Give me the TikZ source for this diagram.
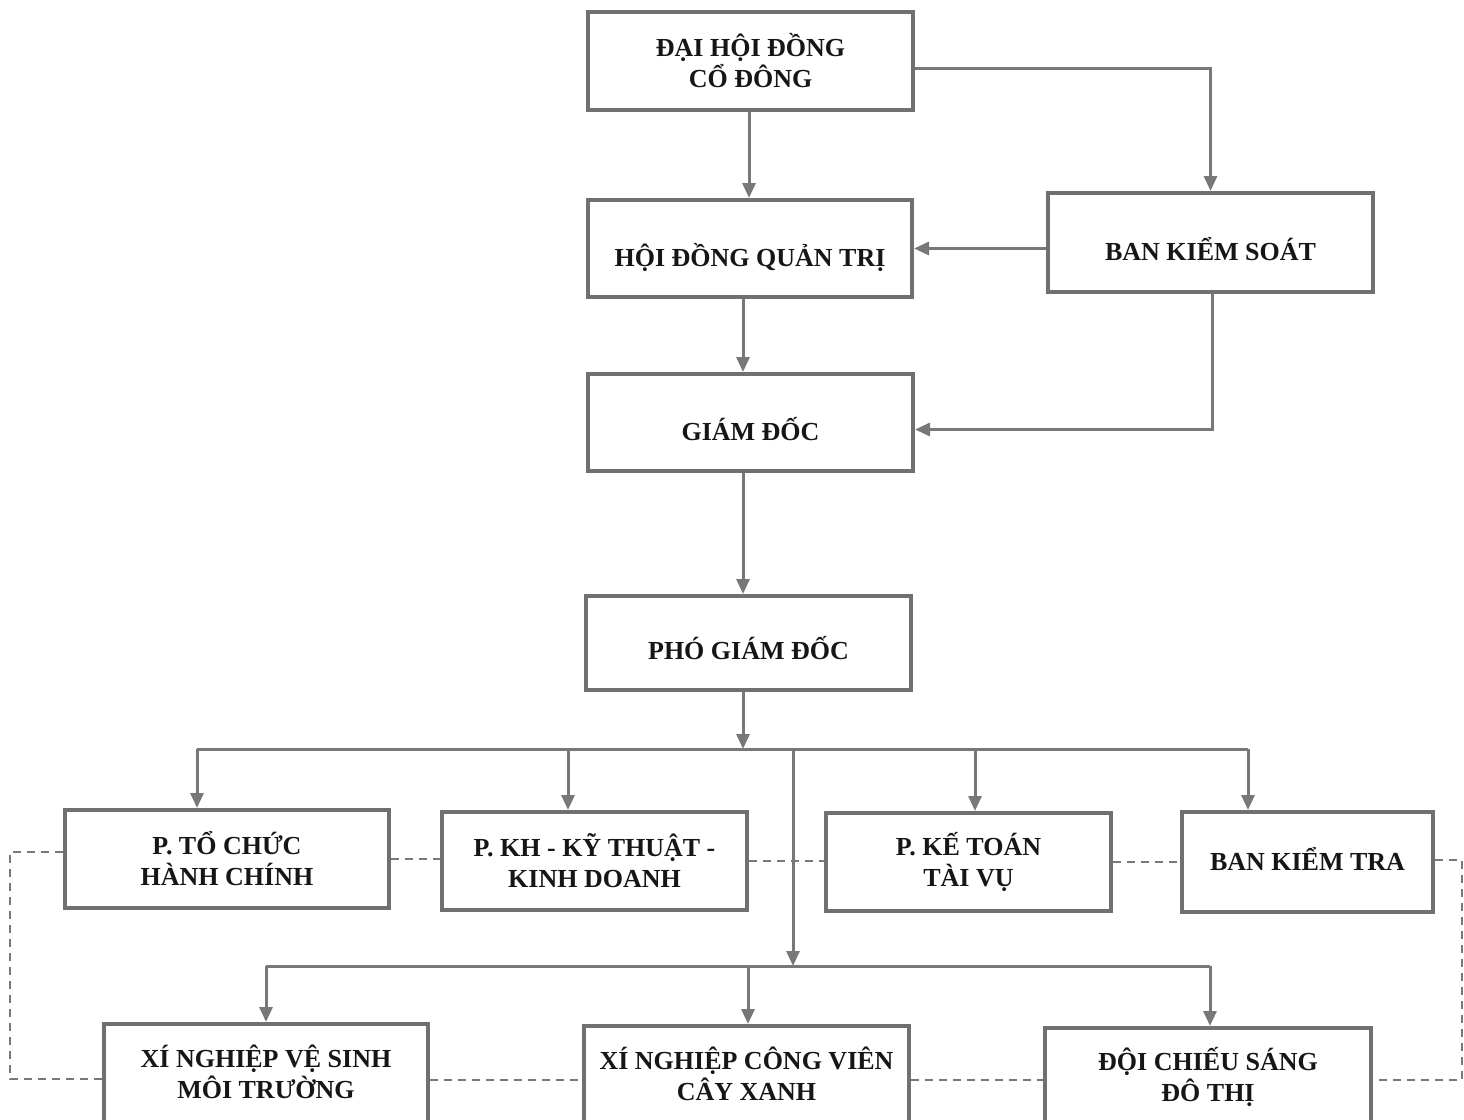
\documentclass[tikz,border=0pt]{standalone}
\usepackage{fontspec}
\setmainfont{Liberation Serif}
\usetikzlibrary{arrows.meta}
\definecolor{boxgray}{HTML}{707070}
\definecolor{linegray}{HTML}{787878}
\definecolor{txt}{HTML}{161616}
\begin{document}
\begin{tikzpicture}[x=1pt,y=-1pt,
  box/.style={draw=boxgray, line width=4pt, fill=white, align=center,
    font=\bfseries\fontsize{26}{31}\selectfont, text=txt, inner sep=0pt},
  conn/.style={draw=linegray, line width=3pt},
  arr/.style={conn, -{Triangle[length=15pt,width=13pt]}},
  dsh/.style={draw=linegray, line width=1.6pt, dash pattern=on 8pt off 6pt}]
\useasboundingbox (0,0) rectangle (1464,1119);
\fill[white] (0,0) rectangle (1464,1119);
\clip (0,0) rectangle (1464,1119);

% boxes
\node[box, minimum width=325pt, minimum height=98pt] (dh) at (750.5,61) {ĐẠI HỘI ĐỒNG\\CỔ ĐÔNG};
\node[box, minimum width=324pt, minimum height=97pt, text height=36pt, text depth=0pt] (hd) at (750,248.5) {HỘI ĐỒNG QUẢN TRỊ};
\node[box, minimum width=325pt, minimum height=99pt, text height=36pt, text depth=0pt] (bks) at (1210.5,242.5) {BAN KIỂM SOÁT};
\node[box, minimum width=325pt, minimum height=97pt, text height=36pt, text depth=0pt] (gd) at (750.5,422.5) {GIÁM ĐỐC};
\node[box, minimum width=325pt, minimum height=94pt, text height=33pt, text depth=0pt] (pgd) at (748.5,643) {PHÓ GIÁM ĐỐC};

\node[box, minimum width=324pt, minimum height=98pt] (ptc) at (227,859) {P. TỔ CHỨC\\HÀNH CHÍNH};
\node[box, minimum width=305pt, minimum height=98pt] (pkh) at (594.5,861) {P. KH - KỸ THUẬT -\\KINH DOANH};
\node[box, minimum width=285pt, minimum height=98pt] (pkt) at (968.5,862) {P. KẾ TOÁN\\TÀI VỤ};
\node[box, minimum width=251pt, minimum height=100pt, text height=17pt, text depth=0pt] (bkt) at (1307.5,862) {BAN KIỂM TRA};

\node[box, minimum width=324pt, minimum height=102pt, text depth=6pt] (xnvs) at (266,1075) {XÍ NGHIỆP VỆ SINH\\MÔI TRƯỜNG};
\node[box, minimum width=325pt, minimum height=100pt, text depth=5pt] (xncv) at (746.5,1076) {XÍ NGHIỆP CÔNG VIÊN\\CÂY XANH};
\node[box, minimum width=326pt, minimum height=98pt] (dcs) at (1208,1077) {ĐỘI CHIẾU SÁNG\\ĐÔ THỊ};

% coordinates for bends and buses
\coordinate (b1) at (743,749);
\coordinate (b1L) at (197,749);
\coordinate (b1R) at (1248,749);
\coordinate (d2) at (568,749);
\coordinate (d3) at (975,749);
\coordinate (v1) at (793,749);
\coordinate (b2) at (793,966);
\coordinate (b2L) at (266,966);
\coordinate (b2R) at (1210,966);
\coordinate (c2) at (748,966);
\coordinate (lt) at (10,852);
\coordinate (lb) at (10,1079);
\coordinate (rt) at (1462,860);
\coordinate (rb) at (1462,1080);

% solid connectors
\draw[arr] ([xshift=-1.5pt]dh.south) -- ([xshift=-1.5pt]dh.south |- hd.north);
\draw[arr] ([yshift=-7pt]dh.east) -| (bks.north);
\draw[arr] (bks.west |- hd.east) -- (hd.east);
\draw[arr] ([xshift=-7pt]hd.south) -- ([xshift=-7pt]hd.south |- gd.north);
\draw[arr] ([xshift=1.5pt]bks.south) |- ([yshift=-7pt]gd.east);
\draw[arr] ([xshift=-7.5pt]gd.south) -- ([xshift=-7.5pt]gd.south |- pgd.north);
\draw[arr] (pgd.south -| b1) -- (b1);
\draw[conn] (b1L) -- (b1R);
\draw[arr] (b1L) -- (b1L |- ptc.north);
\draw[arr] (d2) -- (d2 |- pkh.north);
\draw[arr] (d3) -- (d3 |- pkt.north);
\draw[arr] (b1R) -- (b1R |- bkt.north);
\draw[arr] (v1) -- (b2);
\draw[conn] (b2L) -- (b2R);
\draw[arr] (b2L) -- (b2L |- xnvs.north);
\draw[arr] (c2) -- (c2 |- xncv.north);
\draw[arr] (b2R) -- (b2R |- dcs.north);

% dashed connectors
\draw[dsh] (ptc.west |- lt) -- (lt) -- (lb) -- (xnvs.west |- lb);
\draw[dsh] (bkt.east |- rt) -- (rt) -- (rb) -- (dcs.east |- rb);
\draw[dsh] (ptc.east) -- (ptc.east -| pkh.west);
\draw[dsh] (pkh.east) -- (pkh.east -| pkt.west);
\draw[dsh] (pkt.east) -- (pkt.east -| bkt.west);
\draw[dsh] (xnvs.east |- rb) -- (xncv.west |- rb);
\draw[dsh] (xncv.east |- rb) -- (dcs.west |- rb);
\end{tikzpicture}
\end{document}
